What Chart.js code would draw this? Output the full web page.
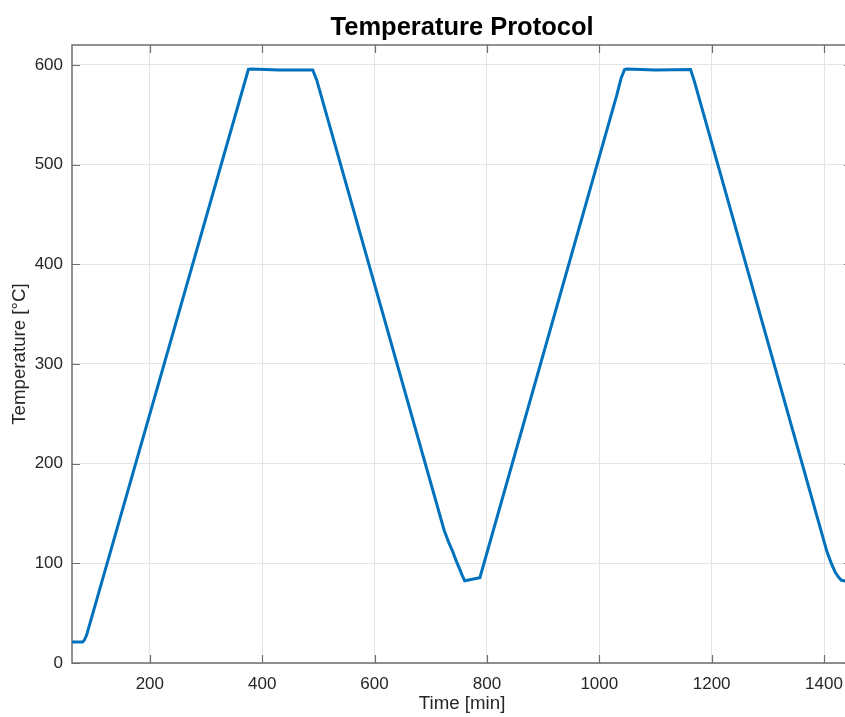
<!DOCTYPE html>
<html><head><meta charset="utf-8">
<script src="https://cdn.jsdelivr.net/npm/chart.js@4/dist/chart.umd.min.js"></script>
<style>
html,body{margin:0;padding:0;overflow:hidden;background:#fff;width:845px;height:717px}
#wrap{position:relative;width:854px;height:717px}
</style></head>
<body><div id="wrap"><canvas id="c" width="854" height="717"></canvas></div>
<script>
const times = [61.5, 80.5, 84, 87.5, 375.5, 380.5, 430, 490, 497, 724, 732, 739, 745, 751, 756, 760.5, 787.5, 1031, 1039, 1045, 1049, 1100, 1162.5, 1169, 1389, 1405, 1413, 1420, 1426, 1431, 1440];
const temps = [21, 21, 23.5, 28, 595.5, 596, 595, 595, 585, 133, 121, 112, 103, 95, 88, 82.5, 85.5, 569.5, 587, 595.5, 596, 595, 595.5, 584, 144, 112, 100, 91, 86, 83, 82];
const xTicks = [200, 400, 600, 800, 1000, 1200, 1400];
const yTicks = [0, 100, 200, 300, 400, 500, 600];

const FONT = "'Liberation Sans', Arial, Helvetica, sans-serif";
const AXIS = '#6e6e6e';
const TXT = '#262626';

const frame = {
  id: 'frame',
  beforeDatasetsDraw(chart) {
    const {ctx, chartArea: a, scales: {x, y}} = chart;
    ctx.save();
    ctx.strokeStyle = AXIS;
    ctx.lineWidth = 1.2;
    ctx.beginPath();
    xTicks.forEach(v => {
      const p = Math.round(x.getPixelForValue(v)) + 0.5;
      ctx.moveTo(p, a.bottom); ctx.lineTo(p, a.bottom - 8);
      ctx.moveTo(p, a.top); ctx.lineTo(p, a.top + 8);
    });
    yTicks.forEach(v => {
      const p = Math.round(y.getPixelForValue(v)) + 0.5;
      ctx.moveTo(a.left, p); ctx.lineTo(a.left + 8, p);
      ctx.moveTo(a.right, p); ctx.lineTo(a.right - 8, p);
    });
    ctx.stroke();
    ctx.lineWidth = 1.5;
    ctx.strokeRect(a.left, a.top, a.right - a.left, a.bottom - a.top);
    ctx.restore();
  }
};

new Chart(document.getElementById('c'), {
  type: 'line',
  data: {
    datasets: [{
      data: times.map((t, i) => ({x: t, y: temps[i]})),
      borderColor: '#0072BD',
      borderWidth: 3,
      pointRadius: 0,
      tension: 0,
      fill: false
    }]
  },
  plugins: [frame],
  options: {
    responsive: false,
    animation: false,
    devicePixelRatio: 1,
    layout: {padding: {top: 0, left: 0, right: 0, bottom: 0}},
    plugins: {
      legend: {display: false},
      tooltip: {enabled: false},
      title: {
        display: true,
        text: 'Temperature Protocol',
        fullSize: false,
        color: '#000',
        font: {family: FONT, size: 25.5, weight: 'bold'},
        padding: {top: 13, bottom: 1.4}
      }
    },
    scales: {
      x: {
        type: 'linear',
        min: 61.5,
        max: 1450,
        afterBuildTicks: s => { s.ticks = xTicks.map(v => ({value: v})); },
        afterFit: s => { s.height = 54; },
        border: {display: false},
        grid: {color: '#e4e4e4', lineWidth: 1, drawTicks: false},
        ticks: {color: TXT, font: {family: FONT, size: 17}, padding: 11, maxRotation: 0, callback: v => String(v)},
        title: {display: true, text: 'Time [min]', color: TXT, font: {family: FONT, size: 18.7}, padding: {top: 0, bottom: 2}}
      },
      y: {
        type: 'linear',
        min: 0,
        max: 620,
        afterBuildTicks: s => { s.ticks = yTicks.map(v => ({value: v})); },
        afterFit: s => { s.width = 72; },
        border: {display: false},
        grid: {color: '#e4e4e4', lineWidth: 1, drawTicks: false},
        ticks: {color: TXT, font: {family: FONT, size: 17}, padding: 9, callback: v => String(v)},
        title: {display: true, text: 'Temperature [°C]', color: TXT, font: {family: FONT, size: 18.7}, padding: {top: 9, bottom: 0}}
      }
    }
  }
});
</script>
</body></html>
